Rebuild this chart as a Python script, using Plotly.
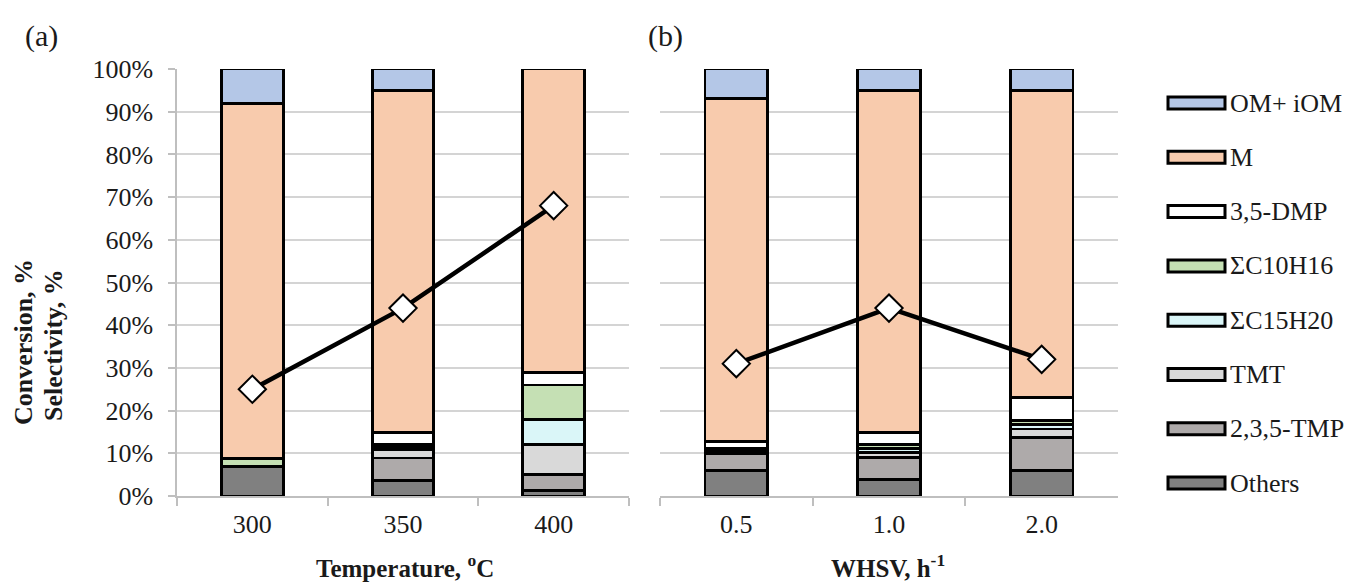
import plotly.graph_objects as go

W, H = 1352, 588

# ---- data ----
cats_a = ["300", "350", "400"]
cats_b = ["0.5", "1.0", "2.0"]

series_names = ["Others", "2,3,5-TMP", "TMT", "ΣC15H20", "ΣC10H16", "3,5-DMP", "M", "OM+ iOM"]
series_colors = ["#808080", "#AEAAAA", "#D9D9D9", "#DAF6F8", "#C5E0B4", "#FFFFFF", "#F8CBAD", "#B4C7E7"]

others_a = [7.0, 3.7, 1.2]
tmp_a = [0.0, 5.2, 3.8]
tmt_a = [0.0, 1.9, 7.0]
c15_a = [0.0, 0.6, 6.0]
c10_a = [1.7, 0.6, 8.0]
dmp_a = [0.0, 2.8, 3.0]
m_a = [83.3, 80.2, 71.0]
om_a = [8.0, 5.0, 0.0]

others_b = [6.0, 3.8, 6.0]
tmp_b = [4.0, 5.3, 7.7]
tmt_b = [0.4, 1.0, 2.0]
c15_b = [0.4, 1.0, 1.0]
c10_b = [0.4, 1.0, 1.0]
dmp_b = [1.5, 2.7, 5.4]
m_b = [80.3, 80.2, 71.9]
om_b = [7.0, 5.0, 5.0]

conv_a = [25, 44, 68]
conv_b = [31, 44, 32]

y_ticks = [0, 10, 20, 30, 40, 50, 60, 70, 80, 90, 100]
y_labels = ["0%", "10%", "20%", "30%", "40%", "50%", "60%", "70%", "80%", "90%", "100%"]

series_a = [others_a, tmp_a, tmt_a, c15_a, c10_a, dmp_a, m_a, om_a]
series_b = [others_b, tmp_b, tmt_b, c15_b, c10_b, dmp_b, m_b, om_b]

FONT = "Liberation Serif"
TXT = "#1a1a1a"
FS = 26

fig = go.Figure()
for name, col, va, vb in zip(series_names, series_colors, series_a, series_b):
    fig.add_trace(go.Bar(x=cats_a, y=va, name=name, marker=dict(color=col, line=dict(color="black", width=2.8)),
                         width=0.41, xaxis="x", yaxis="y", showlegend=False))
    fig.add_trace(go.Bar(x=cats_b, y=vb, name=name, marker=dict(color=col, line=dict(color="black", width=2.8)),
                         width=0.41, xaxis="x2", yaxis="y2", showlegend=False))

mk = dict(symbol="diamond", size=21, color="white", line=dict(color="black", width=2))
fig.add_trace(go.Scatter(x=cats_a, y=conv_a, mode="lines+markers", line=dict(color="black", width=4.5),
                         marker=mk, xaxis="x", yaxis="y", showlegend=False))
fig.add_trace(go.Scatter(x=cats_b, y=conv_b, mode="lines+markers", line=dict(color="black", width=4.5),
                         marker=mk, xaxis="x2", yaxis="y2", showlegend=False))

def px(x):
    return x / W

def py(y):
    return 1 - y / H

grid = "#D4D4D4"
xa_common = dict(type="category", showline=True, linecolor="#BFBFBF", linewidth=1.5, ticks="outside",
                 tickson="boundaries", ticklen=8, tickcolor="#BFBFBF", tickwidth=1.5, showgrid=False,
                 tickfont=dict(family=FONT, size=FS, color=TXT), automargin=False, ticklabelstandoff=4)
fig.update_layout(
    template="none",
    width=W, height=H, margin=dict(l=0, r=0, t=0, b=0, autoexpand=False),
    paper_bgcolor="white", plot_bgcolor="white",
    barmode="stack", bargap=0.59,
    font=dict(family=FONT, color=TXT, size=FS),
    xaxis=dict(domain=[px(177), px(629)], anchor="y", **xa_common),
    xaxis2=dict(domain=[px(660), px(1118)], anchor="y2", **xa_common),
    yaxis=dict(domain=[py(496), py(69)], range=[0, 100], tickvals=y_ticks, ticktext=y_labels,
               showgrid=True, gridcolor=grid, gridwidth=1.5, showline=True, linecolor="#BFBFBF", linewidth=1.5,
               ticks="outside", ticklen=7, tickcolor="#BFBFBF", tickwidth=1.5,
               tickfont=dict(family=FONT, size=FS, color=TXT), zeroline=False,
               anchor="x", automargin=False, ticklabelstandoff=10),
    yaxis2=dict(domain=[py(496), py(69)], range=[0, 100], tickvals=y_ticks, showticklabels=False,
                showgrid=True, gridcolor=grid, gridwidth=1.5, showline=False, zeroline=False, anchor="x2",
                ticks="", automargin=False),
)

anns = []
def add_text(text, x, y, size=FS, xanchor="center", yanchor="middle", **kw):
    anns.append(dict(text=text, x=px(x), y=py(y), xref="paper", yref="paper", showarrow=False,
                     xanchor=xanchor, yanchor=yanchor,
                     font=dict(family=FONT, size=size, color=TXT), **kw))

add_text("(a)", 41, 36, size=30)
add_text("(b)", 665, 36, size=30)
add_text("<b>Conversion, %</b>", 23, 342, textangle=-90)
add_text("<b>Selectivity, %</b>", 53, 345, textangle=-90)
add_text("<b>Temperature, <sup>o</sup>C</b>", 405, 584, size=25, yanchor="bottom")
add_text("<b>WHSV, h<sup>-1</sup></b>", 888, 584, size=25, yanchor="bottom")

# manual legend (top item = last series)
shapes = []
leg_items = list(zip(series_names, series_colors))[::-1]
for i, (name, col) in enumerate(leg_items):
    yc = 103 + 54.3 * i
    shapes.append(dict(type="rect", xref="paper", yref="paper", x0=px(1168), x1=px(1225),
                       y0=py(yc + 6), y1=py(yc - 6), fillcolor=col, line=dict(color="black", width=3)))
    add_text(name, 1228, yc, xanchor="left")

fig.update_layout(annotations=anns, shapes=shapes)
fig.write_html("out.html")
